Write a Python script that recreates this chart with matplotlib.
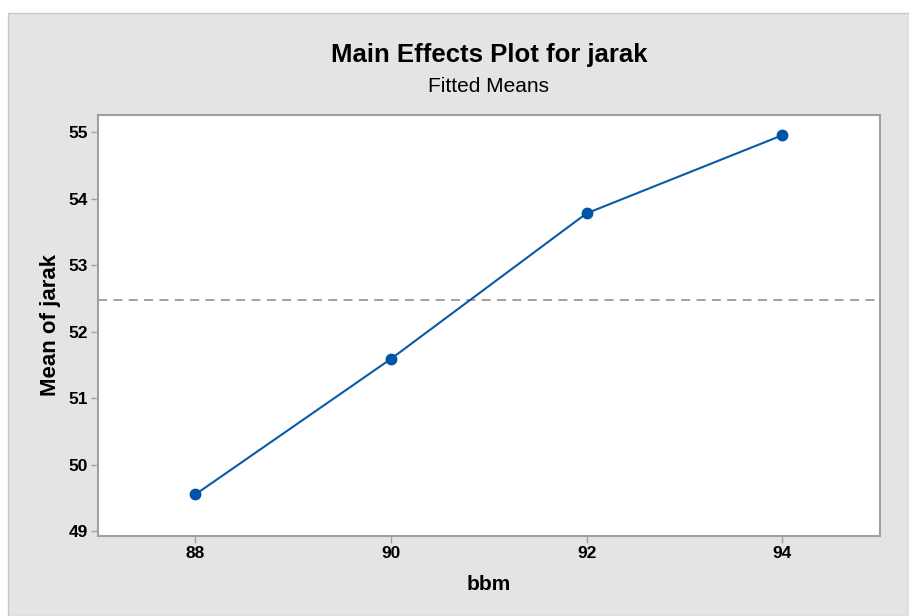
import matplotlib
matplotlib.use("Agg")
import matplotlib.pyplot as plt
from matplotlib.patches import Rectangle

# fitted means
bbm_levels = [88, 90, 92, 94]
mean_jarak = [49.55, 51.59, 53.78, 54.955]
overall_mean = 52.47

x_ticks = [88, 90, 92, 94]
y_ticks = [49, 50, 51, 52, 53, 54, 55]

plt.rcParams['font.family'] = ['Liberation Sans', 'DejaVu Sans']

fig = plt.figure(figsize=(9.09, 6.16), dpi=100, facecolor='white')

# gray panel behind everything, with a thin border at top/left
panel = Rectangle((8 / 909, 0), 1 - 8 / 909, 1 - 13 / 616, transform=fig.transFigure,
                  facecolor='#e4e4e4', edgecolor='#c8c8c8', linewidth=1, zorder=-1)
fig.patches.append(panel)

ax = fig.add_axes([97.5 / 909, 1 - 536 / 616, (880 - 97.5) / 909, (536 - 115) / 616])
ax.set_zorder(1)
ax.set_facecolor('white')

ax.axhline(overall_mean, color='#9a9a9a', linestyle=(0, (5, 3.5)), linewidth=1.3, zorder=1)
ax.plot(bbm_levels, mean_jarak, color='#0a5aaa', linewidth=1.5, marker='o',
        markersize=7.5, markerfacecolor='#0054a6', markeredgecolor='#0054a6', zorder=3)

ax.set_xlim(87, 95)
ax.set_ylim(48.925, 55.26)
ax.set_xticks(x_ticks)
ax.set_yticks(y_ticks)
ax.tick_params(axis='both', direction='out', length=5, width=1, color='#a0a0a0',
               labelsize=12.5, pad=2)
for lab in ax.get_xticklabels() + ax.get_yticklabels():
    lab.set_fontweight('bold')

for side in ax.spines.values():
    side.set_color('#a0a0a0')
    side.set_linewidth(1.5)

ax.set_xlabel('bbm', fontsize=15, fontweight='bold', labelpad=10)
ax.set_ylabel('Mean of jarak', fontsize=16, fontweight='bold', labelpad=5)

fig.text(489 / 909, 1 - 55 / 616, 'Main Effects Plot for jarak', ha='center', va='center',
         fontsize=18.5, fontweight='bold')
fig.text(489 / 909, 1 - 87 / 616, 'Fitted Means', ha='center', va='center',
         fontsize=15)

fig.savefig('out.png', dpi=100, facecolor=fig.get_facecolor())
